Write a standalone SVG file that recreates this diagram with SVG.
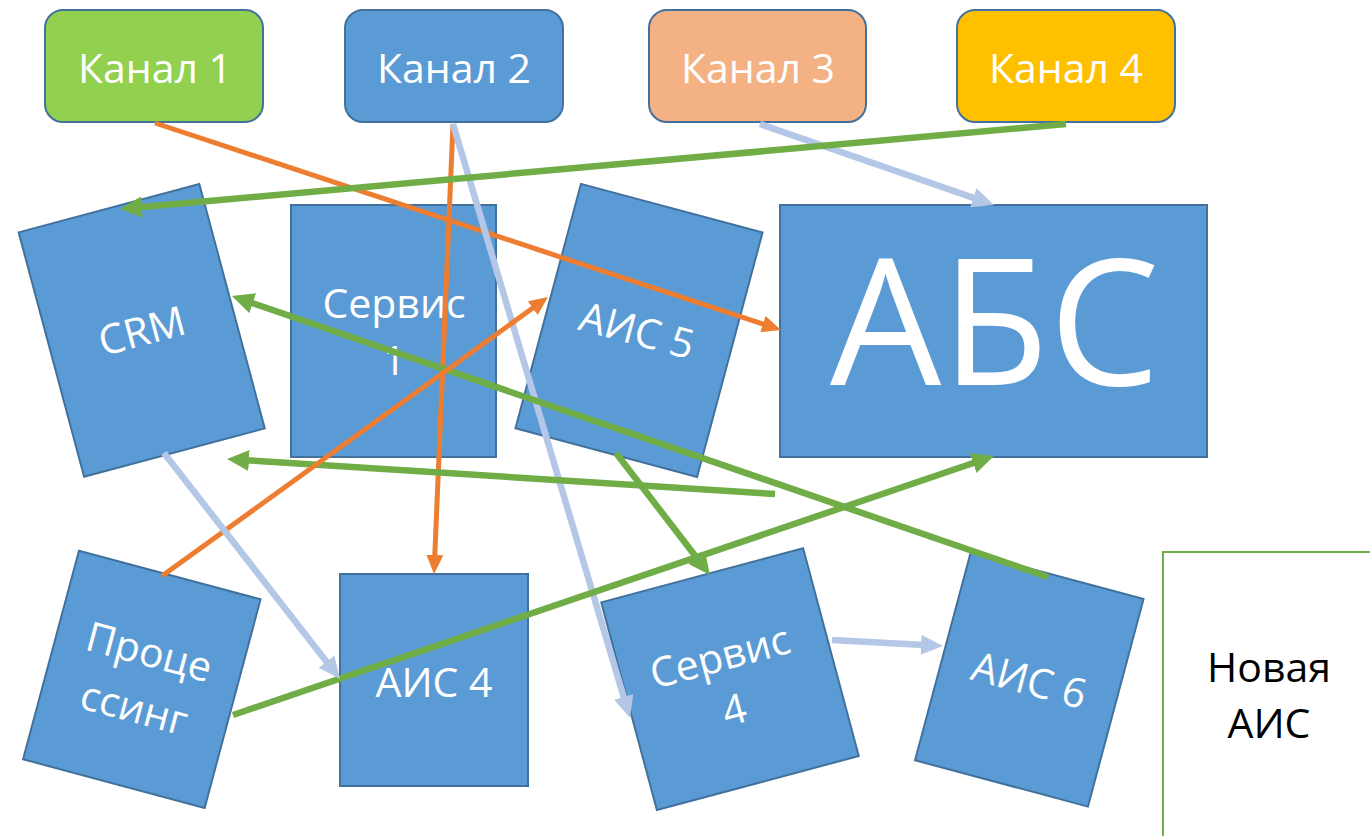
<svg xmlns="http://www.w3.org/2000/svg" width="1370" height="836" viewBox="0 0 1370 836">
<style>
.box{fill:#5B9BD5;stroke:#41719C;stroke-width:2}
.t{font-family:"Open Sans","Noto Sans",sans-serif;font-size:41px;fill:#FFFFFF;text-anchor:middle}
.tb{font-family:"Open Sans","Noto Sans",sans-serif;font-size:41px;fill:#000000;text-anchor:middle}
.or{stroke:#ED7D31;stroke-width:5;fill:none}
.gr{stroke:#70AD47;stroke-width:6.5;fill:none}
.lb{stroke:#B4C7E7;stroke-width:6.5;fill:none}
</style>
<defs>
<marker id="aO" markerUnits="userSpaceOnUse" markerWidth="19" markerHeight="17" refX="5" refY="8.5" orient="auto"><path d="M0,0 L19,8.5 L0,17 z" fill="#ED7D31"/></marker>
<marker id="aG" markerUnits="userSpaceOnUse" markerWidth="22" markerHeight="21" refX="8" refY="10.5" orient="auto"><path d="M0,0 L22,10.5 L0,21 z" fill="#70AD47"/></marker>
<marker id="aL" markerUnits="userSpaceOnUse" markerWidth="22" markerHeight="20" refX="8" refY="10" orient="auto"><path d="M0,0 L22,10 L0,20 z" fill="#B4C7E7"/></marker>
</defs>
<rect width="1370" height="836" fill="#FFFFFF"/>

<g id="kanal1"><rect x="45" y="10" width="218" height="112" rx="18" fill="#92D050" stroke="#41719C" stroke-width="2"/><text class="t" x="155" y="83">Канал 1</text></g>
<g id="kanal2"><rect x="345" y="10" width="218" height="112" rx="18" class="box"/><text class="t" x="454" y="83">Канал 2</text></g>
<g id="kanal3"><rect x="649" y="10" width="217" height="112" rx="18" fill="#F4B183" stroke="#41719C" stroke-width="2"/><text class="t" x="758" y="83">Канал 3</text></g>
<g id="kanal4"><rect x="957" y="10" width="218" height="112" rx="18" fill="#FFC000" stroke="#41719C" stroke-width="2"/><text class="t" x="1066" y="83">Канал 4</text></g>

<g id="crm" transform="translate(141.7,330.4) rotate(-15)"><rect x="-93.5" y="-126.5" width="187" height="253" class="box"/><text class="t" x="0" y="15">CRM</text></g>
<g id="servis1"><rect x="291" y="205" width="205" height="252" class="box"/><text class="t" x="394" y="318">Сервис</text><text class="t" x="394" y="375">1</text></g>
<g id="ais5" transform="translate(639,330.4) rotate(15)"><rect x="-94" y="-126.5" width="188" height="253" class="box"/><text class="t" x="-2" y="15">АИС 5</text></g>
<g id="abs"><rect x="780" y="205" width="427" height="252" class="box"/><text class="t" x="995" y="385" style="font-size:176px">АБС</text></g>

<g id="processing" transform="translate(141.8,679.3) rotate(15)"><rect x="-94" y="-108" width="188" height="216" class="box"/><text class="t" x="0" y="-14">Проце</text><text class="t" x="0" y="44">ссинг</text></g>
<g id="ais4"><rect x="340" y="574" width="188" height="212" class="box"/><text class="t" x="434" y="697">АИС 4</text></g>
<g id="servis4" transform="translate(730,679.2) rotate(-15)"><rect x="-104.5" y="-107.5" width="209" height="215" class="box"/><text class="t" x="-4" y="-10">Сервис</text><text class="t" x="-4" y="45">4</text></g>
<g id="ais6" transform="translate(1029.3,679.6) rotate(15)"><rect x="-89.5" y="-107.5" width="179" height="215" class="box"/><text class="t" x="0" y="15">АИС 6</text></g>
<g id="novaya"><rect x="1163" y="552" width="220" height="300" fill="#FFFFFF" stroke="#70AD47" stroke-width="2"/><text class="tb" x="1269" y="682">Новая</text><text class="tb" x="1269" y="738">АИС</text></g>

<g id="connectors">
<line class="or" x1="155" y1="123" x2="767.7" y2="325.6" marker-end="url(#aO)"/>
<line class="or" x1="453" y1="124" x2="434.6" y2="560" marker-end="url(#aO)"/>
<line class="lb" x1="453" y1="124" x2="626" y2="704.6" marker-end="url(#aL)"/>
<line class="lb" x1="760" y1="124" x2="980.8" y2="200.4" marker-end="url(#aL)"/>
<line class="gr" x1="1066" y1="124" x2="133.9" y2="207.7" marker-end="url(#aG)"/>
<line class="gr" x1="1048" y1="577" x2="245.2" y2="300.6" marker-end="url(#aG)"/>
<line class="gr" x1="775" y1="494" x2="241" y2="459.9" marker-end="url(#aG)"/>
<line class="gr" x1="616" y1="453" x2="701.5" y2="563.9" marker-end="url(#aG)"/>
<line class="gr" x1="233" y1="715" x2="980.7" y2="460.5" marker-end="url(#aG)"/>
<line class="or" x1="162" y1="576" x2="536.7" y2="305.2" marker-end="url(#aO)"/>
<line class="lb" x1="164" y1="453" x2="331.4" y2="668" marker-end="url(#aL)"/>
<line class="lb" x1="832" y1="640" x2="929" y2="645.2" marker-end="url(#aL)"/>
</g>
</svg>
